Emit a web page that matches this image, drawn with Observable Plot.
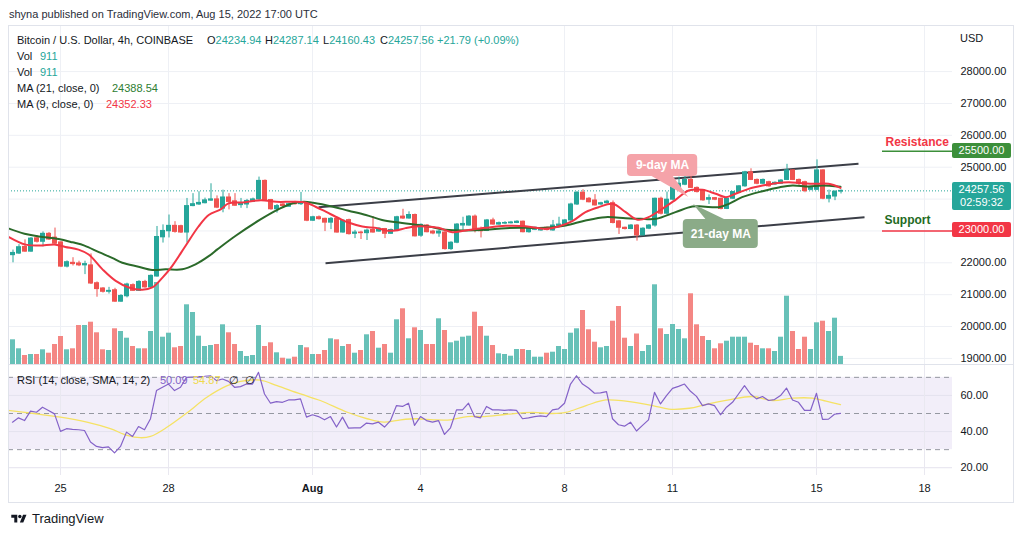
<!DOCTYPE html>
<html><head><meta charset="utf-8">
<script src="https://cdn.jsdelivr.net/npm/d3@7"></script>
<script src="https://cdn.jsdelivr.net/npm/@observablehq/plot@0.6"></script>
<style>
html,body{margin:0;padding:0;background:#fff;}
#root{position:relative;width:1024px;height:536px;overflow:hidden;font-family:"Liberation Sans",Arial,sans-serif;color:#131722;font-size:11px;background:#fff;}
.t{position:absolute;white-space:pre;line-height:12px;font-size:11px;z-index:5;}
.layer{position:absolute;left:0;}
.box{position:absolute;left:952px;width:59px;color:#fff;text-align:center;font-size:11px;line-height:13px;border-radius:2px;z-index:6;}
</style></head>
<body><div id="root"></div>
<script>
// ---------- DATA ----------
const candleStart = "2022-07-23T16:00:00Z"; // 4h candles
const opens = [22240,22290,22500,22350,22770,22660,22910,22790,22640,21880,
22000,21980,21920,21920,21360,21195,21090,21140,20780,20950,
21300,21120,21400,21230,21570,22800,22990,23160,23150,22950,
23780,23830,23870,23950,23990,23700,24050,23930,23810,23830,
23910,23990,24570,23970,23680,23830,23760,23900,23840,23860,
23320,23430,23380,23260,23380,22950,23340,22910,22950,22930,
23030,22980,23060,22910,23020,23450,23390,23500,22850,23170,
22980,22920,22950,22430,22630,23170,23170,23450,23040,23000,
23330,23200,23230,23240,23250,23290,22960,23035,23015,23100,
23015,23160,23170,23330,23830,24200,24010,23955,23830,23870,
23870,23300,23100,23060,23170,22860,23070,23170,24010,23540,
23980,24370,24450,24600,24350,24270,23980,24030,24010,23690,
24010,24190,24400,24840,24600,24480,24530,24460,24480,24600,
24900,24600,24530,24290,24290,24900,24010,24080,24234.94];
const highs = [22400,22570,22720,22790,22850,22970,22950,23090,22660,22060,
22160,22050,22050,22280,21400,21220,21230,21200,21000,21360,
21340,21440,21450,21620,23140,23190,23500,23290,23180,24020,
24170,24230,24030,24480,24100,24280,24170,24170,24020,23990,
24030,24690,24600,23990,23830,23860,23870,23930,24210,23890,
23460,23470,23400,23420,23400,23340,23370,23020,22990,23060,
23450,23100,23080,23060,23460,23680,23600,23530,23220,23200,
23020,23020,22990,22660,23230,23430,23480,23500,23120,23360,
23400,23280,23290,23300,23320,23310,23100,23120,23090,23120,
23330,23430,23360,23870,24230,24290,24050,24140,23900,23960,
23940,23330,23120,23200,23200,23100,23200,24030,24060,24220,
24400,24690,24710,24950,24380,24290,24130,24050,24030,24030,
24240,24420,24870,24950,24630,24630,24560,24540,24610,25090,
24920,24630,24560,24400,25230,24920,24280,24260,24287.14];
const lows = [22000,22260,22330,22330,22620,22500,22700,22560,21850,21840,
21900,21880,21630,21320,20920,21050,21020,20760,20760,20900,
21100,21100,21200,21200,21550,22620,22780,22930,22920,22620,
23760,23800,23850,23930,23700,23570,23660,23770,23710,23700,
23890,23960,23940,23650,23560,23750,23740,23810,23800,23290,
23300,23340,22980,23040,22930,22930,22870,22760,22730,22700,
22930,22960,22760,22890,22990,23360,23370,22810,22800,22940,
22880,22800,22400,22390,22600,23020,23150,22940,22780,22980,
23180,23180,23200,23220,23230,22940,22930,23010,22990,23000,
22990,23140,23150,23300,23800,23950,23880,23780,23800,23850,
23220,22890,23030,23040,22680,22840,23040,23120,23500,23500,
23950,24350,24420,24330,24190,23930,23830,23950,23660,23670,
23990,24170,24370,24580,24450,24450,24370,24430,24460,24580,
24580,24400,24200,24260,24270,23980,23880,23950,24160.43];
const closes = [22310,22490,22350,22760,22660,22910,22730,22600,21880,22020,
21960,21920,21960,21350,21175,21090,21120,20780,20960,21320,
21120,21400,21230,21590,22810,23000,23160,22970,22950,23780,
23840,23880,23960,23990,23730,24050,23910,23790,23860,23940,
23990,24570,23970,23680,23780,23780,23840,23840,23890,23320,
23430,23370,23260,23380,22950,23320,22900,22950,22930,23010,
22950,23070,22910,23030,23430,23390,23500,22830,23190,22960,
22920,22980,22430,22630,23200,23220,23450,23000,22990,23330,
23200,23245,23250,23265,23290,22960,23070,23100,23070,23030,
23170,23200,23330,23830,24200,23980,23900,23800,23870,23920,
23250,23100,23060,23170,22860,23070,23170,24010,23540,23980,
24370,24480,24600,24350,24220,23960,24030,23980,23690,24010,
24220,24400,24840,24600,24480,24600,24400,24510,24580,24900,
24600,24480,24250,24370,24900,24010,24100,24230,24257.56];
const volumes = [2570,1670,1000,1100,1100,1570,1230,2100,2900,1570,
1670,4000,4000,4330,3270,1570,1500,3670,3400,2730,
1900,1670,1670,3400,8300,2830,3230,1770,1900,6070,
5300,2930,1900,2000,2100,4070,3270,2100,1400,900,
1000,4000,1900,2270,1270,730,630,830,2000,1770,
1100,1100,1500,2670,2570,1900,2100,1230,1500,3070,
3400,1730,2100,1230,4570,5670,2670,3770,3500,2100,
2100,4670,3500,2270,2430,2830,2930,5330,3900,2930,
2000,1170,1100,930,1600,1600,1500,830,830,1230,
1330,1900,1600,3230,3670,5500,3570,2330,1770,1900,
4430,5900,2730,1900,3150,1400,2000,8070,3670,3100,
4100,3600,2670,7170,4070,2900,2500,1670,2170,2430,
2830,2830,2830,2230,2000,1670,1670,1400,2830,6930,
3400,1600,2830,1600,4270,4430,3400,4730,911];
const rsiValues = [45.2,47.6,46.1,51.3,50.7,53.5,51.7,49.8,40.1,41.6,
41.2,41.0,40.6,34.2,31.8,31.1,31.5,28.2,31.8,39.7,
37.3,42.8,41.0,47.1,62.7,64.5,66.3,62.7,64.5,70.0,
70.2,70.4,70.6,70.9,68.2,69.1,67.8,64.5,64.9,66.3,
66.3,72.8,60.8,55.7,56.6,56.2,57.5,57.5,58.1,48.0,
49.3,48.3,46.5,48.3,42.5,48.0,41.9,42.1,42.1,44.7,
44.3,45.2,42.5,46.1,54.4,53.9,55.7,43.4,48.3,46.1,
45.2,46.1,38.4,42.1,52.0,52.0,55.7,48.3,47.6,53.9,
52.0,52.0,51.7,52.0,51.7,47.1,47.6,48.3,48.7,48.3,
52.0,52.6,55.7,66.3,70.9,66.3,64.1,61.2,61.4,62.1,
47.1,43.8,43.0,45.2,40.3,43.4,46.5,61.7,55.3,59.9,
63.9,65.0,66.3,62.3,59.5,54.4,55.3,54.4,49.3,53.5,
56.2,60.8,65.4,60.8,58.1,59.4,57.2,57.7,59.9,64.1,
57.5,56.2,51.7,51.7,61.2,46.7,46.9,49.6,50.09];
// moving averages (candle index, value)
const ma21Idx = [-1,2,4.4,7.7,10,12,14.4,16.6,18.3,21,23.3,25.5,28.3,30.5,32.7,34.2,37.2,41.2,44.3,46.6,48.6,50.1,53.4,56,58.9,61.6,64.4,67.2,69.4,72.2,75.5,78.8,82.2,85.5,88.8,92.2,95.5,98.8,102.2,104.7,107.2,110.5,113.3,115,117.7,119.4,121.6,125,127.9,130,132.7,134.9,138];
const ma21Val = [23100,22912,22829,22746,22643,22540,22333,22157,22002,21877,21774,21795,21795,21950,22208,22430,22850,23346,23677,23863,23914,23883,23760,23635,23501,23346,23263,23191,23139,23035,23014,23035,23088,23098,23098,23171,23328,23433,23401,23380,23380,23590,23767,23767,23746,23851,24060,24248,24374,24426,24395,24426,24388.54];
const ma9Idx = [-1,2.2,4.4,7.2,8.8,11,12.7,15,17.2,19.4,21.6,23.3,25,26.6,28.8,31,32.7,34.7,36,38.3,41.4,44,46.6,48.8,50.5,52.2,54.4,56,58.3,60.8,62.2,63.8,65.5,67.2,68.8,71,73.3,75.5,78.8,82.2,85.5,88.8,91,93.3,95.5,97.7,100,102.2,104.2,106,108.3,110.5,112.7,115,117.2,118.9,120.5,122.7,125,127.2,129.4,131.6,133.8,136,138];
const ma9Val = [22850,22570,22540,22570,22498,22415,22260,21795,21433,21226,21154,21226,21536,21898,22519,23139,23501,23677,23863,23894,23966,23914,23914,23894,23760,23604,23398,23263,23139,23088,23015,23015,23088,23139,23140,23098,22962,23014,23098,23161,23150,23067,23140,23307,23590,23746,23851,23590,23350,23433,23694,23976,24269,24290,24165,24060,24165,24321,24426,24499,24530,24499,24478,24478,24352.33];
const rsiSmaIdx = [-1,3.6,8,12.4,16.3,19.1,21.3,23,25.8,29.1,32.4,35.8,38,41.3,44.1,48,51.3,55.8,59.1,61.9,64.7,67.4,70.2,73,75.8,78.6,82.4,86.7,90,92.2,95.6,98.9,102.2,106.7,109.4,112.8,115.6,119.4,123.3,126.7,130,133.3,135.6,138];
const rsiSmaVal = [51.8,50,48,45.2,41.6,37.9,36.6,37.3,42.5,50.4,59,65.4,67.8,68.5,65.4,60.8,57.2,50.7,47.1,45.2,46.5,47.1,46.5,46.5,48.3,48.3,49.6,50.6,50,50.6,54.4,57.5,56.8,54.4,52.4,52.9,55,57.5,59.4,57.2,58.5,58.5,56.8,54.87];
const tickDates = ["2022-07-25","2022-07-28","2022-08-01","2022-08-04","2022-08-08","2022-08-11","2022-08-15","2022-08-18"];
const tickLabels = ["25","28","Aug","4","8","11","15","18"];
const priceTicks = [19000,20000,21000,22000,23000,24000,25000,26000,27000,28000];
// price labels not hidden behind the axis boxes
const priceLabelTicks = [19000,20000,21000,22000,25000,26000,27000,28000];
const rsiTicks = [20,40,60];
const rsiLevels = [30,50,70];
const rsiBand = [30,70];
// channel lines (date, price)
const trendFrom = ["2022-08-01T04:00:00Z","2022-08-01T08:40:00Z"];
const trendFromPrice = [23745,21988];
const trendTo = ["2022-08-16T04:00:00Z","2022-08-16T08:00:00Z"];
const trendToPrice = [25110,23432];
// resistance / support
const levelNames = ["Resistance","Support"];
const levelPrices = [25500,23000];
const levelStart = "2022-08-16T20:00:00Z";
const levelTextTime = ["2022-08-16T22:00:00Z","2022-08-16T21:20:00Z"];
const levelTextPrice = [25775,23330];
// callouts (candle index / price)
const calloutLabels = ["9-day MA","21-day MA"];
const calloutFrom = [102.5,111.8];
const calloutTo = [114.2,124.3];
const calloutLow = [24708,22450];
const calloutHigh = [25398,23359];
const tail9Idx = [106.3,110,112.7], tail9Price = [24740,24740,24050];
const tail21Idx = [115.7,119,113.5], tail21Price = [23330,23330,23830];

// ---------- BUILD ----------
const root = document.getElementById("root");
const UP = "#26a69a", DOWN = "#ef5350", VUP = "#67c1b8", VDOWN = "#f48784", GRID = "#eef0f5";
const H4 = 4 * 3600e3;
const t0 = Date.parse(candleStart);
const toTime = k => new Date(t0 + k * H4);
const half = H4 * 5 / 12;
const candles = opens.map((o, i) => ({t: toTime(i), o, h: highs[i], l: lows[i], c: closes[i], v: volumes[i], r: rsiValues[i]}));
const ups = candles.filter(d => d.c >= d.o), downs = candles.filter(d => d.c < d.o);
const xDomain = [new Date("2022-07-23T13:20:00Z"), new Date("2022-08-18T18:40:00Z")];
const tickTimes = tickDates.map(s => new Date(s + "T00:00:00Z"));
const labelOf = new Map(tickTimes.map((d, i) => [+d, tickLabels[i]]));
const font = "Liberation Sans, Arial, sans-serif";
const style = {background: "transparent", overflow: "hidden", fontFamily: font, fontSize: "11px", color: "#131722"};
const common = {width: 1024, height: 340, marginLeft: 8, marginRight: 72, marginTop: 0, marginBottom: 0, style};
const priceDomain = [18778, 29446];
const xOpt = {type: "utc", domain: xDomain, axis: null};
const lo = d => Math.min(d.o, d.c), hi = d => Math.max(d.o, d.c);
const bx1 = d => new Date(+d.t - half), bx2 = d => new Date(+d.t + half);

function place(el, top, z) { el.classList.add("layer"); el.style.top = top + "px"; el.style.zIndex = z; root.appendChild(el); }

// A: grid + price axis
const chartA = Plot.plot({...common,
  x: xOpt,
  y: {domain: priceDomain, axis: "right", ticks: priceLabelTicks, tickFormat: d => d.toFixed(2), tickSize: 0, tickPadding: 8, label: null},
  marks: [Plot.ruleY(priceTicks, {stroke: GRID}), Plot.ruleX(tickTimes, {stroke: GRID})]
});
place(chartA, 25, 1);

// B: volume
const chartB = Plot.plot({...common,
  x: xOpt, y: {domain: [0, 34000], axis: null},
  marks: [
    Plot.rect(ups, {x1: bx1, x2: bx2, y1: () => 0, y2: "v", fill: VUP, dx: 0.5}),
    Plot.rect(downs, {x1: bx1, x2: bx2, y1: () => 0, y2: "v", fill: VDOWN, dx: 0.5})
  ]
});
place(chartB, 25, 2);

// C: price marks
const trend = trendFrom.map((s, i) => ({a: new Date(s), pa: trendFromPrice[i], b: new Date(trendTo[i]), pb: trendToPrice[i]}));
const ma21 = ma21Idx.map((k, j) => ({t: toTime(k), v: ma21Val[j]}));
const ma9 = ma9Idx.map((k, j) => ({t: toTime(k), v: ma9Val[j]}));
const levels = levelPrices.map((p, i) => ({p, name: levelNames[i], tt: new Date(levelTextTime[i]), tp: levelTextPrice[i]}));
const callouts = calloutLabels.map((s, i) => ({s, a: toTime(calloutFrom[i]), b: toTime(calloutTo[i]), lo: calloutLow[i], hi: calloutHigh[i], m: toTime((calloutFrom[i] + calloutTo[i]) / 2), mp: (calloutLow[i] + calloutHigh[i]) / 2}));
const tailRows = (idx, pr) => [{p: pr[0], a: toTime(idx[0]), b: toTime(idx[1])}, {p: pr[2], a: toTime(idx[2]), b: toTime(idx[2])}];
const lvlStart = new Date(levelStart);
const lastClose = closes[closes.length - 1];
const chartC = Plot.plot({...common,
  x: xOpt, y: {domain: priceDomain, axis: null},
  marks: [
    Plot.ruleY([lastClose], {stroke: UP, strokeDasharray: "1,2", strokeWidth: 1}),
    Plot.link(trend, {x1: "a", y1: "pa", x2: "b", y2: "pb", stroke: "#3b3e47", strokeWidth: 2}),
    Plot.ruleY([levels[0]], {y: "p", x1: () => lvlStart, x2: () => xDomain[1], stroke: "#3c8f3a", strokeWidth: 1.5}),
    Plot.ruleY([levels[1]], {y: "p", x1: () => lvlStart, x2: () => xDomain[1], stroke: "#f23645", strokeWidth: 1.5}),
    Plot.ruleX(ups, {x: "t", y1: "l", y2: "h", stroke: UP, dx: 0.5}),
    Plot.ruleX(downs, {x: "t", y1: "l", y2: "h", stroke: DOWN, dx: 0.5}),
    Plot.rect(ups, {x1: bx1, x2: bx2, y1: lo, y2: hi, fill: UP, dx: 0.5, insetTop: -0.5, insetBottom: -0.5}),
    Plot.rect(downs, {x1: bx1, x2: bx2, y1: lo, y2: hi, fill: DOWN, dx: 0.5, insetTop: -0.5, insetBottom: -0.5}),
    Plot.line(ma21, {x: "t", y: "v", stroke: "#2b6a2a", strokeWidth: 2, curve: "catmull-rom", clip: true}),
    Plot.line(ma9, {x: "t", y: "v", stroke: "#f23645", strokeWidth: 2, curve: "catmull-rom", clip: true}),
    Plot.areaX(tailRows(tail9Idx, tail9Price), {y: "p", x1: "a", x2: "b", fill: "#f5a3a9"}),
    Plot.areaX(tailRows(tail21Idx, tail21Price), {y: "p", x1: "a", x2: "b", fill: "#8bab88"}),
    Plot.rect([callouts[0]], {x1: "a", x2: "b", y1: "lo", y2: "hi", fill: "#f5a3a9", rx: 4}),
    Plot.rect([callouts[1]], {x1: "a", x2: "b", y1: "lo", y2: "hi", fill: "#8bab88", rx: 4}),
    Plot.text(callouts, {x: "m", y: "mp", text: "s", fill: "white", fontWeight: "bold", fontSize: 12}),
    Plot.text([levels[0]], {x: "tt", y: "tp", text: "name", fill: "#f23645", fontWeight: "bold", fontSize: 12, textAnchor: "start"}),
    Plot.text([levels[1]], {x: "tt", y: "tp", text: "name", fill: "#1f6b24", fontWeight: "bold", fontSize: 12, textAnchor: "start"})
  ]
});
place(chartC, 25, 3);

// RSI pane
const sma = rsiSmaIdx.map((k, j) => ({t: toTime(k), v: rsiSmaVal[j]}));
const chartR = Plot.plot({width: 1024, height: 138, marginLeft: 8, marginRight: 72, marginTop: 0, marginBottom: 28, style,
  x: {type: "utc", domain: xDomain, ticks: tickTimes, tickFormat: d => labelOf.get(+d), tickSize: 0, tickPadding: 9, label: null},
  y: {domain: [15.7, 76.56], axis: "right", ticks: rsiTicks, tickFormat: d => d.toFixed(2), tickSize: 0, tickPadding: 8, label: null},
  marks: [
    Plot.rect([rsiBand], {x1: () => xDomain[0], x2: () => xDomain[1], y1: d => d[0], y2: d => d[1], fill: "#f2eef9"}),
    Plot.ruleY(rsiTicks, {stroke: "#e4e2ee"}),
    Plot.ruleX(tickTimes, {stroke: "#e9e8f0"}),
    Plot.ruleY(rsiLevels, {stroke: "#9598a1", strokeDasharray: "5,4"}),
    Plot.line(sma, {x: "t", y: "v", stroke: "#f5e264", strokeWidth: 1.3, curve: "catmull-rom", clip: true}),
    Plot.line(candles, {x: "t", y: "r", stroke: "#8462c8", strokeWidth: 1.2})
  ]
});
place(chartR, 365, 2);
chartR.querySelectorAll("text").forEach(el => { if (el.textContent === "Aug") el.setAttribute("font-weight", "bold"); });

// ---------- FRAME & TEXT ----------
function div(css) { const d = document.createElement("div"); d.style.position = "absolute"; Object.assign(d.style, css); root.appendChild(d); return d; }
div({left: "8px", top: "25px", width: "1006px", height: "478px", border: "1px solid #e0e3eb", boxSizing: "border-box", zIndex: 4, pointerEvents: "none"});
div({left: "8px", top: "364px", width: "1006px", height: "1px", background: "#e0e3eb", zIndex: 4});

function txt(str, left, top, color, extra) {
  const d = document.createElement("div"); d.className = "t"; d.textContent = str;
  d.style.left = left + "px"; d.style.top = top + "px"; if (color) d.style.color = color;
  Object.assign(d.style, extra || {}); root.appendChild(d); return d;
}
txt("shyna published on TradingView.com, Aug 15, 2022 17:00 UTC", 9, 8, "#2a2e39");
txt("Bitcoin / U.S. Dollar, 4h, COINBASE", 17, 34);
const ohlcLetters = ["O","H","L","C"], ohlcVals = [opens, highs, lows, closes].map(a => a[a.length - 1]);
const ohlcX = [207, 265, 323, 380];
ohlcLetters.forEach((s, i) => { const d = txt(s, ohlcX[i], 34); const v = document.createElement("span"); v.style.color = UP; v.textContent = ohlcVals[i].toFixed(2); d.appendChild(v); });
txt("+21.79 (+0.09%)", 437, 34, UP);
txt("Vol", 17, 50); txt(String(volumes[volumes.length - 1]), 40, 50, UP);
txt("Vol", 17, 66); txt(String(volumes[volumes.length - 1]), 40, 66, UP);
txt("MA (21, close, 0)", 17, 82); txt(ma21Val[ma21Val.length - 1].toFixed(2), 112, 82, "#2e7d32");
txt("MA (9, close, 0)", 17, 98); txt(ma9Val[ma9Val.length - 1].toFixed(2), 106, 98, "#f23645");
txt("USD", 960, 32);
txt("RSI (14, close, SMA, 14, 2)", 17, 374);
txt(rsiValues[rsiValues.length - 1].toFixed(2), 160, 374, "#8462c8");
txt(rsiSmaVal[rsiSmaVal.length - 1].toFixed(2), 193, 374, "#efd94a");
txt("\u2205", 229, 374); txt("\u2205", 245, 374);

// price-axis boxes from the chart's own y scale
const ys = chartA.scale("y");
const yPage = p => 25 + ys.range[0] + (p - ys.domain[0]) / (ys.domain[1] - ys.domain[0]) * (ys.range[1] - ys.range[0]);
function box(lines, p, color) {
  const h = lines.length * 13 + 2;
  const d = document.createElement("div"); d.className = "box";
  d.style.background = color; d.style.height = h + "px";
  d.style.top = (yPage(p) - 8) + "px"; d.style.paddingTop = "1px"; d.style.boxSizing = "border-box";
  d.innerHTML = lines.join("<br>"); root.appendChild(d);
}
box([levelPrices[0].toFixed(2)], levelPrices[0], "#3c8f3a");
box([lastClose.toFixed(2), "02:59:32"], lastClose, UP);
box([levelPrices[1].toFixed(2)], levelPrices[1], "#f23645");

// TradingView logo
const logo = div({left: "9px", top: "513px", width: "20px", height: "12px"});
logo.innerHTML = '<svg width="20" height="12" viewBox="0 0 36 28"><path d="M14 22H7V11H0V4h14v18zM28 22h-8l7.5-18h8L28 22z" fill="#131722"/><circle cx="20" cy="8" r="4" fill="#131722"/></svg>';
txt("TradingView", 32, 512, "#131722", {fontSize: "13px", lineHeight: "14px"});
</script></body></html>
